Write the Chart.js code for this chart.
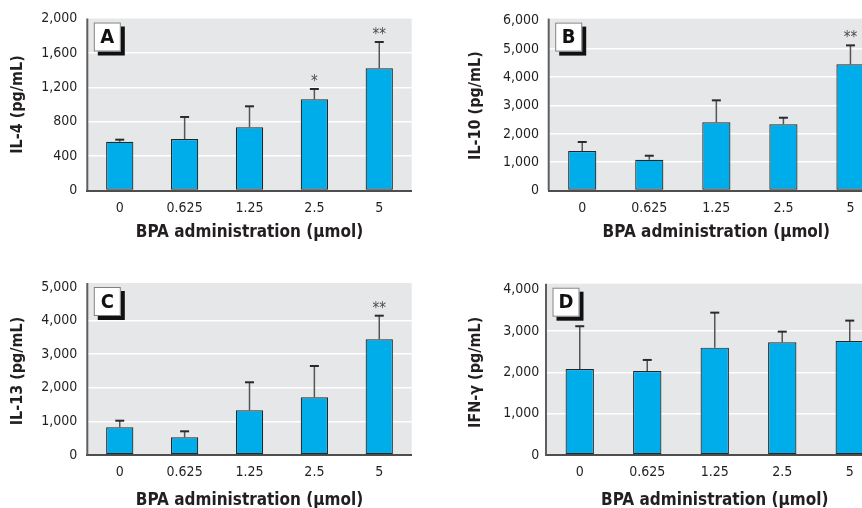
<!DOCTYPE html>
<html>
<head>
<meta charset="utf-8">
<script src="https://cdn.jsdelivr.net/npm/chart.js@4.4.0/dist/chart.umd.min.js"></script>
<style>
  html, body { margin: 0; padding: 0; background: #fff; }
  body { width: 862px; height: 508px; position: relative; overflow: hidden; }
  canvas { position: absolute; }
</style>
</head>
<body>
<canvas id="chartA" width="431" height="254" style="left:0;top:0"></canvas>
<canvas id="chartB" width="460" height="254" style="left:431px;top:0"></canvas>
<canvas id="chartC" width="431" height="258" style="left:0;top:254px"></canvas>
<canvas id="chartD" width="460" height="258" style="left:431px;top:254px"></canvas>
<script>
// ===== DATA =====
const DOSES = ['0', '0.625', '1.25', '2.5', '5'];

const IL4      = [567, 599, 735, 1060, 1421];
const IL4_SD   = [24, 256, 244, 120, 306];
const IL4_SIG  = ['', '', '', '*', '**'];

const IL10     = [1394, 1087, 2407, 2337, 4455];
const IL10_SD  = [318, 141, 777, 233, 670];
const IL10_SIG = ['', '', '', '', '**'];

const IL13     = [824, 527, 1330, 1717, 3443];
const IL13_SD  = [197, 178, 834, 932, 703];
const IL13_SIG = ['', '', '', '', '**'];

const IFNG     = [2082, 2034, 2598, 2729, 2760];
const IFNG_SD  = [1034, 266, 847, 256, 492];
const IFNG_SIG = ['', '', '', '', ''];

// ===== STYLE =====
const FONT = '"Liberation Sans Narrow", "DejaVu Sans Condensed", "Arial Narrow", sans-serif';
const BAR_COLOR = '#00adeb';
const PLOT_BG = '#e6e7e8';
const INK = '#231f20';

// Background, y axis line, error bars, significance stars and panel letter
const panelDecor = {
  id: 'panelDecor',
  beforeDraw(chart, args, opts) {
    const { ctx, chartArea: a } = chart;
    const top = a.top - opts.bgExtend;
    ctx.save();
    ctx.fillStyle = PLOT_BG;
    ctx.fillRect(a.left, top, a.right - a.left, a.bottom - top);
    ctx.restore();
  },
  afterDatasetsDraw(chart, args, opts) {
    const { ctx, chartArea: a, scales: { y } } = chart;
    const meta = chart.getDatasetMeta(0);
    const vals = chart.data.datasets[0].data;
    const top = a.top - opts.bgExtend;
    ctx.save();
    // y axis line
    ctx.strokeStyle = '#5e5e5e';
    ctx.lineWidth = 2;
    ctx.beginPath();
    ctx.moveTo(a.left, top);
    ctx.lineTo(a.left, a.bottom);
    ctx.stroke();
    meta.data.forEach((bar, i) => {
      const yBar = y.getPixelForValue(vals[i]);
      const yErr = y.getPixelForValue(vals[i] + opts.errors[i]);
      ctx.strokeStyle = '#555';
      ctx.lineWidth = 1.5;
      ctx.beginPath();
      ctx.moveTo(bar.x, yBar);
      ctx.lineTo(bar.x, yErr);
      ctx.stroke();
      ctx.strokeStyle = '#2a2a2a';
      ctx.lineWidth = 2;
      ctx.beginPath();
      ctx.moveTo(bar.x - 4.5, yErr);
      ctx.lineTo(bar.x + 4.5, yErr);
      ctx.stroke();
      if (opts.marks[i]) {
        ctx.fillStyle = '#4a4a4a';
        ctx.font = '15px ' + FONT;
        ctx.textAlign = 'center';
        ctx.textBaseline = 'middle';
        ctx.fillText(opts.marks[i], bar.x, yErr - 7);
      }
    });
    // panel letter box
    const bx = a.left + 6.5, by = top + 4, bw = 27, bh = 29;
    ctx.fillStyle = '#111';
    ctx.fillRect(bx + 4, by + 4, bw, bh);
    ctx.fillStyle = '#fff';
    ctx.fillRect(bx, by, bw, bh);
    ctx.strokeStyle = '#808080';
    ctx.lineWidth = 1;
    ctx.strokeRect(bx + 0.5, by + 0.5, bw - 1, bh - 1);
    ctx.fillStyle = '#111';
    ctx.font = 'bold 20px ' + FONT;
    ctx.textAlign = 'center';
    ctx.textBaseline = 'middle';
    ctx.fillText(opts.letter, bx + bw / 2, by + bh / 2 + 1);
    ctx.restore();
  }
};

function buildPanel(id, cfg) {
  return new Chart(document.getElementById(id), {
    type: 'bar',
    data: {
      labels: DOSES,
      datasets: [{
        data: cfg.values,
        backgroundColor: BAR_COLOR,
        borderColor: '#262626',
        borderWidth: 1.2,
        borderSkipped: false,
        barPercentage: 0.42,
        categoryPercentage: 1
      }]
    },
    options: {
      responsive: false,
      animation: false,
      layout: { padding: cfg.pad },
      plugins: {
        legend: { display: false },
        tooltip: { enabled: false },
        panelDecor: { errors: cfg.errors, marks: cfg.marks, letter: cfg.letter, bgExtend: cfg.bgExtend }
      },
      scales: {
        x: {
          grid: { display: false, drawTicks: false },
          border: { display: true, color: '#4e4e4e', width: 2 },
          ticks: { color: INK, padding: 9, font: { family: FONT, size: 14 } },
          title: {
            display: true, text: 'BPA administration (μmol)', color: INK,
            font: { family: FONT, size: 17, weight: 'bold' },
            padding: { top: 0, bottom: cfg.xTitlePad }
          },
          afterFit(s) { s.height = cfg.xHeight; }
        },
        y: {
          min: 0, max: cfg.max,
          grid: {
            drawTicks: false, lineWidth: 1.5,
            color: c => (c.tick.value === cfg.max || c.tick.value === 0) ? 'rgba(0,0,0,0)' : '#ffffff'
          },
          border: { display: false },
          ticks: {
            stepSize: cfg.step, color: INK, padding: cfg.tickPad,
            font: { family: FONT, size: 14 },
            callback: v => v.toLocaleString('en-US')
          },
          title: {
            display: true, text: cfg.yTitle, color: INK,
            font: { family: FONT, size: 16, weight: 'bold' },
            padding: { top: cfg.yTitlePad, bottom: 0 }
          },
          afterFit(s) { s.width = cfg.yWidth; }
        }
      }
    },
    plugins: [panelDecor]
  });
}

buildPanel('chartA', {
  values: IL4, errors: IL4_SD, marks: IL4_SIG, letter: 'A', yTitle: 'IL-4 (pg/mL)',
  max: 2000, step: 400, pad: { left: 0, top: 18.5, right: 19.3, bottom: 0 },
  yWidth: 87.3, tickPad: 10, yTitlePad: 8.5, xHeight: 63.5, xTitlePad: 11, bgExtend: 0
});
buildPanel('chartB', {
  values: IL10, errors: IL10_SD, marks: IL10_SIG, letter: 'B', yTitle: 'IL-10 (pg/mL)',
  max: 6000, step: 1000, pad: { left: 0, top: 20.6, right: 7, bottom: 0 },
  yWidth: 117.7, tickPad: 9.7, yTitlePad: 35.5, xHeight: 63.5, xTitlePad: 11, bgExtend: 2
});
buildPanel('chartC', {
  values: IL13, errors: IL13_SD, marks: IL13_SIG, letter: 'C', yTitle: 'IL-13 (pg/mL)',
  max: 5000, step: 1000, pad: { left: 0, top: 33, right: 19.3, bottom: 0 },
  yWidth: 87.3, tickPad: 10, yTitlePad: 8.5, xHeight: 57, xTitlePad: 1.5, bgExtend: 4
});
buildPanel('chartD', {
  values: IFNG, errors: IFNG_SD, marks: IFNG_SIG, letter: 'D', yTitle: 'IFN-γ (pg/mL)',
  max: 4000, step: 1000, pad: { left: 0, top: 35.7, right: 7.5, bottom: 0 },
  yWidth: 115, tickPad: 6.7, yTitlePad: 35.5, xHeight: 57, xTitlePad: 1.5, bgExtend: 6
});
</script>
</body>
</html>
